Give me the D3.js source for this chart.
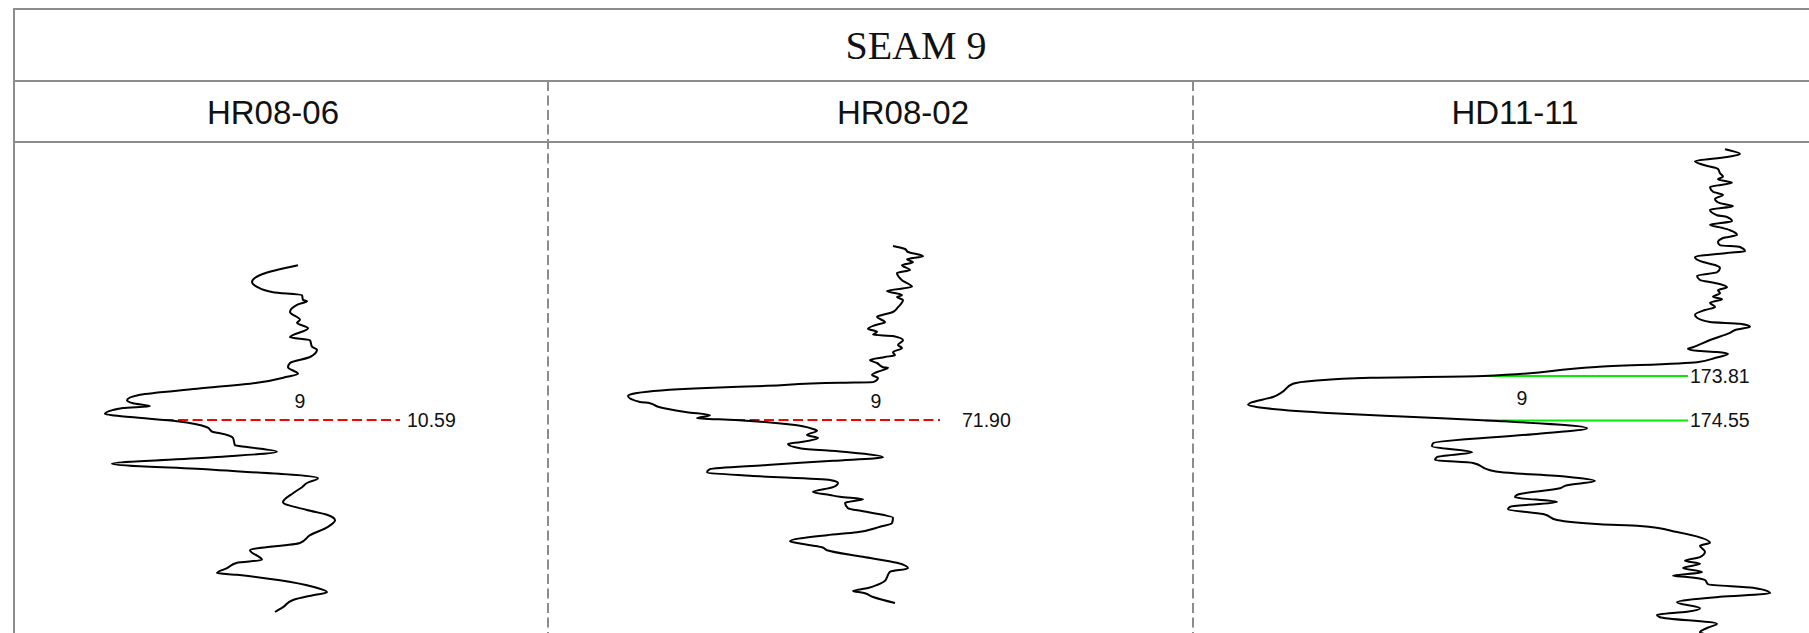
<!DOCTYPE html>
<html>
<head>
<meta charset="utf-8">
<script src="https://cdn.jsdelivr.net/npm/d3@7"></script>
<style>
  html, body { margin: 0; padding: 0; background: #fff; overflow: hidden; }
  svg { display: block; }
</style>
</head>
<body>
<svg id="chart" width="1809" height="633"></svg>
<script>
// ---- Data -------------------------------------------------------------
const seamTitle = "SEAM 9";
const seamCode = "9";
const wellNames = ["HR08-06", "HR08-02", "HD11-11"];

// Seam picks (depth, m) for each well
const picksHR0806 = [10.59];
const picksHR0802 = [71.90];
const picksHD1111 = [173.81, 174.55];
const pickKinds = ["interpreted", "interpreted", "logged"];

// Gamma log for HR08-06: depth (m) and reading
const depthHR0806 = [8.01, 8.16, 8.29, 8.37, 8.46, 8.51, 8.59, 8.61, 8.67, 8.79,
  8.92, 8.97, 9.06, 9.21, 9.26, 9.37, 9.42, 9.54, 9.64, 9.71,
  9.82, 9.87, 9.97, 10.07, 10.17, 10.26, 10.31, 10.36, 10.39, 10.49,
  10.54, 10.61, 10.71, 10.79, 10.81, 10.89, 11.01, 11.04, 11.12, 11.21,
  11.32, 11.42, 11.56, 11.64, 11.71, 11.81, 11.96, 12.09, 12.17, 12.26,
  12.37, 12.51, 12.64, 12.76, 12.92, 12.97, 13.06, 13.14, 13.17, 13.26,
  13.37, 13.46, 13.51, 13.59, 13.71, 13.79];
const gammaHR0806 = [198, 162, 152, 157, 173, 202, 203, 207, 197, 190,
  200, 197, 208, 190, 210, 212, 217, 210, 190, 188,
  198, 187, 157, 97, 40, 27, 33, 50, 23, 5,
  30, 77, 107, 113, 120, 133, 135, 147, 177, 113,
  12, 113, 218, 207, 202, 193, 183, 207, 227, 235,
  228, 210, 200, 150, 162, 137, 127, 117, 137, 180,
  213, 227, 213, 193, 183, 175];

// Gamma log for HR08-02
const depthHR0802 = [69.00, 69.05, 69.10, 69.17, 69.22, 69.27, 69.32, 69.40, 69.45, 69.57,
  69.68, 69.75, 69.82, 69.85, 69.90, 70.02, 70.10, 70.15, 70.18, 70.27,
  70.32, 70.38, 70.43, 70.48, 70.50, 70.57, 70.65, 70.70, 70.77, 70.82,
  70.85, 70.90, 70.95, 71.02, 71.03, 71.10, 71.15, 71.20, 71.27, 71.28,
  71.33, 71.37, 71.45, 71.50, 71.60, 71.62, 71.68, 71.77, 71.82, 71.87,
  71.90, 71.98, 72.05, 72.08, 72.15, 72.20, 72.27, 72.30, 72.37, 72.43,
  72.52, 72.58, 72.65, 72.72, 72.77, 72.83, 72.90, 72.95, 73.02, 73.10,
  73.15, 73.18, 73.22, 73.28, 73.37, 73.42, 73.48, 73.53, 73.62, 73.68,
  73.77, 73.82, 73.92, 73.95, 74.02, 74.07, 74.18, 74.28, 74.37, 74.43,
  74.52, 74.58, 74.65, 74.70, 74.75, 74.78, 74.85, 74.95];
const gammaHR0802 = [273, 285, 288, 303, 287, 293, 282, 290, 277, 282,
  292, 267, 282, 277, 283, 278, 273, 262, 257, 265,
  255, 248, 257, 253, 273, 283, 278, 282, 273, 275,
  265, 250, 257, 263, 268, 257, 252, 258, 253, 220,
  147, 80, 17, 8, 20, 30, 38, 67, 90, 77,
  115, 173, 193, 197, 187, 198, 180, 168, 180, 223,
  263, 213, 147, 90, 87, 130, 210, 218, 213, 193,
  210, 220, 243, 225, 228, 243, 263, 273, 272, 260,
  237, 207, 170, 177, 202, 207, 243, 277, 288, 270,
  267, 265, 257, 248, 233, 243, 253, 275];

// Gamma log for HD11-11
const depthHD1111 = [170.03, 170.11, 170.16, 170.23, 170.29, 170.36, 170.43, 170.49, 170.53, 170.59,
  170.66, 170.74, 170.79, 170.86, 170.93, 170.98, 171.04, 171.13, 171.16, 171.23,
  171.29, 171.34, 171.38, 171.46, 171.51, 171.58, 171.63, 171.66, 171.73, 171.76,
  171.83, 171.91, 171.96, 172.01, 172.08, 172.14, 172.21, 172.26, 172.33, 172.38,
  172.43, 172.49, 172.53, 172.59, 172.66, 172.71, 172.79, 172.84, 172.91, 172.94,
  172.99, 173.04, 173.09, 173.21, 173.33, 173.36, 173.39, 173.41, 173.44, 173.51,
  173.58, 173.66, 173.81, 173.84, 173.89, 173.94, 174.08, 174.16, 174.26, 174.29,
  174.33, 174.43, 174.49, 174.56, 174.68, 174.78, 174.93, 174.98, 175.08, 175.16,
  175.21, 175.26, 175.38, 175.41, 175.49, 175.56, 175.63, 175.68, 175.79, 175.83,
  175.91, 175.99, 176.03, 176.11, 176.21, 176.28, 176.31, 176.41, 176.59, 176.64,
  176.74, 176.83, 176.89, 176.94, 177.01, 177.08, 177.14, 177.16, 177.21, 177.28,
  177.34, 177.43, 177.49, 177.58, 177.68, 177.74, 177.79, 177.83, 177.94, 178.01,
  178.08, 178.14, 178.29];
const gammaHD1111 = [242.5, 250, 243.5, 227.5, 231.5, 239, 240, 241.5, 239, 246,
  235, 236.5, 241.5, 237.5, 240, 246.5, 235, 238.5, 243.5, 246,
  235, 241, 245, 248.5, 241.5, 239, 240, 250, 252.5, 243.5,
  227.5, 231.5, 237.5, 240, 238.5, 228.5, 230, 237.5, 243.5, 239,
  240, 236.5, 241, 235, 237.5, 232.5, 227.5, 228.5, 235, 250,
  255, 248, 245, 235, 226.5, 224, 228.5, 238.5, 244, 237.5,
  228.5, 178, 121.5, 65, 37, 26.5, 21, 16.5, 5, 4,
  9, 46.5, 84, 129, 173.5, 146.5, 96.5, 96, 116, 98.5,
  97.5, 116.5, 125, 130, 163.5, 177.5, 163.5, 160, 138.5, 137.5,
  158.5, 135, 134, 151.5, 158.5, 180, 200, 218.5, 235, 230,
  232.5, 230, 222.5, 230, 221.5, 231, 216.5, 223.5, 232.5, 234,
  256.5, 265, 240, 218.5, 230, 223.5, 208.5, 210, 238.5, 233.5,
  230, 235, 240];

// ---- Layout -----------------------------------------------------------
const W = 1809, H = 633;
const frame = { left: 14, top: 9, right: 1818, titleBottom: 81, headBottom: 142 };
const gridColor = "#8c8c8c";
const pxPerMetre = 60;

const panels = [
  { name: wellNames[0], depth: depthHR0806, gamma: gammaHR0806, picks: picksHR0806, kind: pickKinds[0],
    colRight: 548, headX: 273, domain: [0, 240], range: [100, 340],
    anchorY: 420, lineEnd: 400, labelX: 407, seamX: 300 },
  { name: wellNames[1], depth: depthHR0802, gamma: gammaHR0802, picks: picksHR0802, kind: pickKinds[1],
    colRight: 1193, headX: 903, domain: [0, 320], range: [620, 940],
    anchorY: 420, lineEnd: 940, labelX: 962, seamX: 876 },
  { name: wellNames[2], depth: depthHD1111, gamma: gammaHD1111, picks: picksHD1111, kind: pickKinds[2],
    colRight: null, headX: 1515, domain: [0, 270], range: [1240, 1780],
    anchorY: 376, lineEnd: 1688, labelX: 1690, seamX: 1522 }
];

const pickStyle = {
  interpreted: { stroke: "#ff0000", dash: "10,4.5" },
  logged: { stroke: "#00ee00", dash: null }
};

const svg = d3.select("#chart");
const sans = "'Liberation Sans', Arial, Helvetica, sans-serif";

// ---- Frame and headers ------------------------------------------------
const grid = svg.append("g").attr("fill", "none").attr("stroke", gridColor).attr("stroke-width", 2);
grid.append("rect")
  .attr("x", frame.left).attr("y", frame.top)
  .attr("width", frame.right - frame.left).attr("height", H + 50);
[frame.titleBottom, frame.headBottom].forEach(y => {
  grid.append("line").attr("x1", frame.left).attr("x2", frame.right).attr("y1", y).attr("y2", y);
});
panels.filter(p => p.colRight !== null).forEach(p => {
  grid.append("line")
    .attr("x1", p.colRight).attr("x2", p.colRight)
    .attr("y1", frame.titleBottom).attr("y2", H + 10)
    .attr("stroke-dasharray", "10,4.5");
});

svg.append("text")
  .attr("x", 916).attr("y", 59)
  .attr("text-anchor", "middle")
  .attr("font-family", "'Liberation Serif', 'Times New Roman', serif")
  .attr("font-size", 40).attr("fill", "#111")
  .text(seamTitle);

svg.selectAll("text.well")
  .data(panels).enter().append("text")
  .attr("class", "well")
  .attr("x", d => d.headX).attr("y", 124)
  .attr("text-anchor", "middle")
  .attr("font-family", sans).attr("font-size", 33).attr("fill", "#111")
  .text(d => d.name);

// ---- Log tracks -------------------------------------------------------
svg.append("clipPath").attr("id", "body")
  .append("rect").attr("x", frame.left + 1).attr("y", frame.headBottom + 1)
  .attr("width", W).attr("height", H);

function valueAt(depths, vals, d) {
  const i = d3.bisectLeft(depths, d);
  if (i <= 0) return vals[0];
  if (i >= depths.length) return vals[vals.length - 1];
  const t = (d - depths[i - 1]) / (depths[i] - depths[i - 1]);
  return vals[i - 1] + t * (vals[i] - vals[i - 1]);
}

panels.forEach(p => {
  const g = svg.append("g").attr("clip-path", "url(#body)");
  const x = d3.scaleLinear().domain(p.domain).range(p.range);
  const y = d3.scaleLinear().domain([p.picks[0], p.picks[0] + 1]).range([p.anchorY, p.anchorY + pxPerMetre]);
  const pts = p.depth.map((d, i) => [p.gamma[i], d]);

  // seam pick lines, starting where the log crosses the pick depth
  const st = pickStyle[p.kind];
  p.picks.forEach(dep => {
    const xs = x(valueAt(p.depth, p.gamma, dep));
    g.append("line")
      .attr("x1", xs).attr("x2", p.lineEnd)
      .attr("y1", y(dep)).attr("y2", y(dep))
      .attr("stroke", st.stroke).attr("stroke-width", 2)
      .attr("stroke-dasharray", st.dash);
    g.append("text")
      .attr("x", p.labelX).attr("y", y(dep))
      .attr("dominant-baseline", "central")
      .attr("font-family", sans).attr("font-size", 19.5).attr("fill", "#111")
      .text(dep.toFixed(2));
  });

  // seam code label
  const seamY = p.picks.length > 1
    ? (y(p.picks[0]) + y(p.picks[p.picks.length - 1])) / 2
    : y(p.picks[0]) - 19;
  g.append("text")
    .attr("x", p.seamX).attr("y", seamY)
    .attr("text-anchor", "middle").attr("dominant-baseline", "central")
    .attr("font-family", sans).attr("font-size", 19.5).attr("fill", "#111")
    .text(seamCode);

  // the log curve
  const line = d3.line()
    .x(d => x(d[0]))
    .y(d => y(d[1]))
    .curve(d3.curveMonotoneY);
  g.append("path")
    .attr("d", line(pts))
    .attr("fill", "none")
    .attr("stroke", "#000")
    .attr("stroke-width", 2)
    .attr("stroke-linejoin", "round");
});
</script>
</body>
</html>
